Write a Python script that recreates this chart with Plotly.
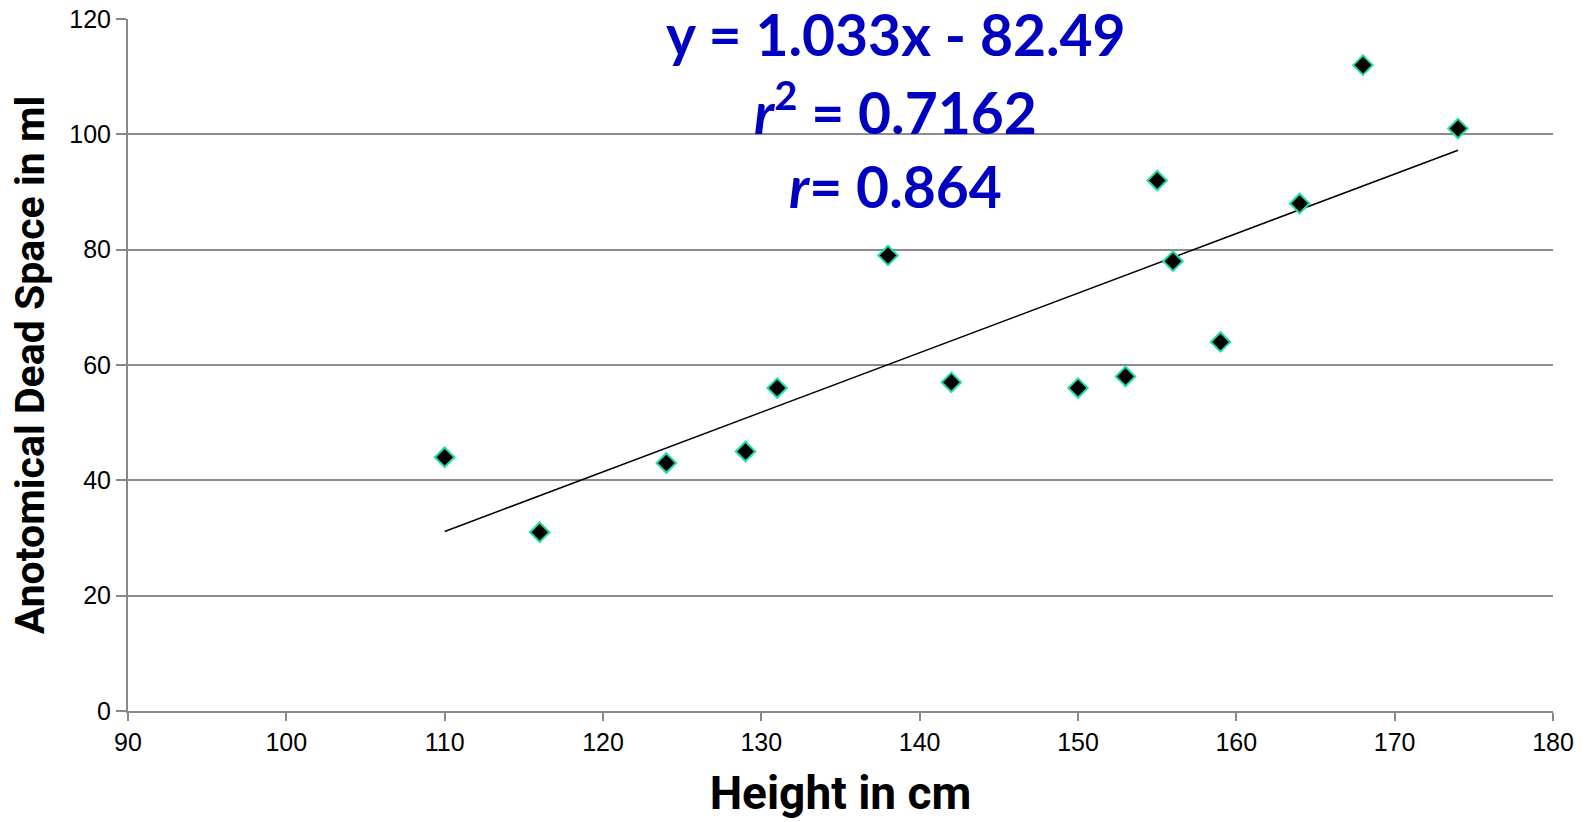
import plotly.graph_objects as go

height_cm = [110, 116, 124, 129, 131, 138, 142, 150, 153, 155, 156, 159, 164, 168, 174]
dead_space_ml = [44, 31, 43, 45, 56, 79, 57, 56, 58, 92, 78, 64, 88, 112, 101]
slope = 1.033
intercept = -82.49
trend_x = [min(height_cm), max(height_cm)]
trend_y = [slope * v + intercept for v in trend_x]
eq_lines = ["y = 1.033x - 82.49", "<i>r</i><sup>2</sup> = 0.7162", "<i>r</i>= 0.864"]
eq_y = [117.4, 104.4, 91.0]

fig = go.Figure()
fig.add_trace(go.Scatter(x=trend_x, y=trend_y, mode="lines",
                         line=dict(color="black", width=1.5), hoverinfo="skip"))
fig.add_trace(go.Scatter(x=height_cm, y=dead_space_ml, mode="markers",
                         marker=dict(symbol="diamond", size=15, color="black",
                                     line=dict(color="#22DDAA", width=2))))

for txt, yy in zip(eq_lines, eq_y):
    fig.add_annotation(x=138.5, y=yy, text=txt, showarrow=False, xanchor="center",
                       yanchor="middle",
                       font=dict(family="Lato", size=57, color="#0000C0", weight="bold"))

tickfont = dict(family="Liberation Sans", size=25, color="black")
fig.update_layout(
    width=1590, height=822,
    margin=dict(l=128, r=37, t=19, b=111),
    paper_bgcolor="white", plot_bgcolor="white",
    showlegend=False,
    xaxis=dict(range=[90, 180], dtick=10, tick0=90, showgrid=False, automargin=False,
               showline=True, linecolor="#888888", linewidth=2,
               ticks="outside", ticklen=8, tickcolor="#888888", tickwidth=2,
               tickfont=tickfont,
               title=dict(text="Height in cm", standoff=22,
                          font=dict(family="Roboto", size=46, color="black", weight="bold")),
               zeroline=False),
    yaxis=dict(range=[0, 120], dtick=20, showgrid=True, gridcolor="#8c8c8c", gridwidth=1.5,
               showline=True, linecolor="#888888", linewidth=2, automargin=False,
               ticks="outside", ticklen=10, tickcolor="#888888", tickwidth=2,
               tickfont=tickfont,
               title=dict(text="Anotomical Dead Space in ml", standoff=12,
                          font=dict(family="Roboto", size=41, color="black", weight="bold")),
               zeroline=False),
)
fig.write_html("out.html")
